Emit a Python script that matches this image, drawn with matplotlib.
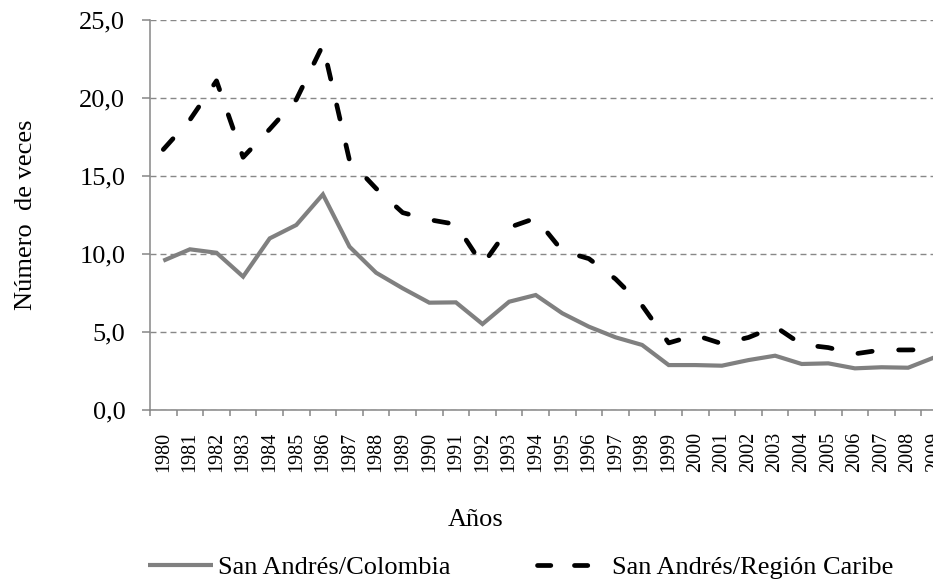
import matplotlib
matplotlib.use("Agg")
import matplotlib.pyplot as plt
from matplotlib.lines import Line2D
from matplotlib.ticker import FixedLocator, FuncFormatter

plt.rcParams['font.family'] = ['Liberation Serif', 'DejaVu Serif']
plt.rcParams['lines.scale_dashes'] = False

years = [str(y) for y in range(1980, 2010)]
colombia = [9.57, 10.30, 10.08, 8.55, 11.0, 11.86, 13.82, 10.47, 8.80, 7.80,
            6.88, 6.90, 5.51, 6.94, 7.37, 6.20, 5.34, 4.66, 4.17, 2.88,
            2.88, 2.84, 3.20, 3.48, 2.95, 2.99, 2.67, 2.74, 2.71, 3.38]
caribe = [16.7, 18.6, 21.1, 16.2, 18.0, 19.9, 23.4, 16.0, 14.2, 12.65,
          12.2, 11.9, 9.3, 11.7, 12.3, 10.2, 9.7, 8.4, 6.7, 4.3,
          4.8, 4.25, 4.65, 5.35, 4.2, 4.0, 3.6, 3.85, 3.85, 3.87]
yticks = [0, 5, 10, 15, 20, 25]
label_col = "San Andrés/Colombia"
label_car = "San Andrés/Región Caribe"

W, H = 933, 586
fig = plt.figure(figsize=(W / 100, H / 100), dpi=100)
ax = fig.add_axes([150 / W, (H - 410) / H, 798 / W, 390 / H])

axis_col = '#868686'
x = list(range(len(years)))
ax.plot(x, colombia, color='#808080', lw=3.0, solid_joinstyle='miter',
        solid_capstyle='butt', zorder=3)
ax.plot(x, caribe, color='black', lw=3.4, dashes=(10.4, 19.1),
        dash_capstyle='round', zorder=4)

ax.set_xlim(-0.5, len(years) - 0.5)
ax.set_ylim(0, 25)
ax.set_yticks(yticks)
ax.yaxis.set_major_formatter(FuncFormatter(lambda v, p: f"{v:.1f}".replace('.', ',')))
ax.set_xticks(x)
ax.set_xticklabels(years, rotation=90, va='top', ha='center')
ax.xaxis.set_minor_locator(FixedLocator([i - 0.5 for i in range(len(years) + 1)]))

ax.tick_params(axis='x', which='major', length=0, pad=16, labelsize=14.5)
ax.tick_params(axis='x', which='minor', length=4.3, width=1.1, color=axis_col)
ax.tick_params(axis='y', length=5.8, width=1.1, color=axis_col, pad=12, labelsize=19)

for s in ['top', 'right']:
    ax.spines[s].set_visible(False)
for s in ['left', 'bottom']:
    ax.spines[s].set_color(axis_col)
    ax.spines[s].set_linewidth(1.1)

ax.yaxis.grid(True, color='#888888', lw=1.0, dashes=(4.3, 2.9))
ax.set_axisbelow(True)

ax.set_ylabel("Número  de veces", fontsize=19)
ax.yaxis.label.set_va('center')
ax.yaxis.set_label_coords((26 - 150) / 798, 0.5)
ax.set_xlabel("Años", fontsize=19)
ax.xaxis.label.set_va('center')
ax.xaxis.set_label_coords((476 - 150) / 798, (410 - 520) / 390)

fs = 19
h1 = Line2D([], [], color='#808080', lw=3.0, solid_capstyle='butt')
h2 = Line2D([], [], color='black', lw=3.4, dashes=(9.6, 17.0), dash_capstyle='round')
leg1 = fig.legend(handles=[h1], labels=[label_col], loc='center left',
                  bbox_to_anchor=(148 / W, (H - 567) / H), frameon=False,
                  fontsize=fs, borderpad=0, borderaxespad=0,
                  handlelength=65 / 26.4, handletextpad=5 / 26.4)
leg2 = fig.legend(handles=[h2], labels=[label_car], loc='center left',
                  bbox_to_anchor=(537 / W, (H - 567) / H), frameon=False,
                  fontsize=fs, borderpad=0, borderaxespad=0,
                  handlelength=52.5 / 26.4, handletextpad=23 / 26.4)

fig.savefig("out.png", dpi=100)
